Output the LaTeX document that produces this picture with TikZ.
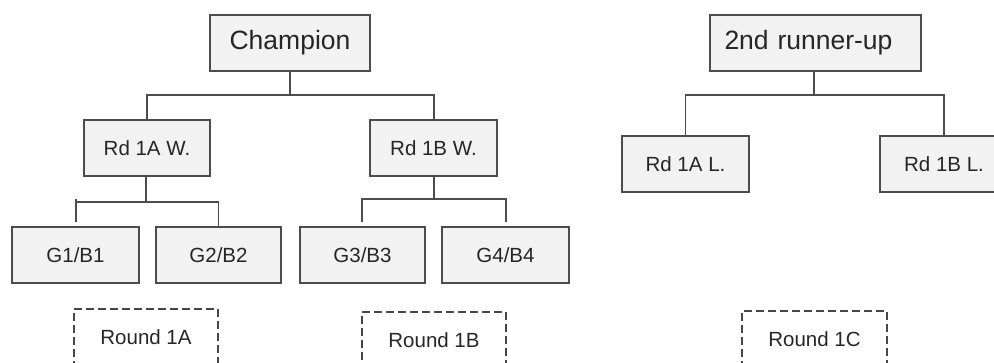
\documentclass[tikz,border=0pt]{standalone}
\usepackage{fontspec}
\setmainfont{Liberation Sans}
\begin{document}
\begin{tikzpicture}[x=1pt,y=-1pt,
  box/.style={draw=black!70, line width=1.5pt, fill=black!5, rectangle, minimum height=56pt, inner sep=0pt, text=black!85, font=\fontsize{20.5}{24}\selectfont},
  bigbox/.style={box, font=\fontsize{26.5}{30}\selectfont},
  dbox/.style={draw=black!72, line width=1.2pt, dash pattern=on 8pt off 4pt, rectangle, minimum height=56pt, inner sep=0pt, text=black!85, font=\fontsize{20.5}{24}\selectfont},
  conn/.style={draw=black!70, line width=1.4pt}]
\useasboundingbox (0,0) rectangle (994,363);
% nodes
\node[bigbox, minimum width=160pt] (champ) at (290,43) {Champion};
\node[box, minimum width=126pt] (r1aw) at (147,148) {Rd 1A W.};
\node[box, minimum width=127pt] (r1bw) at (433.5,148) {Rd 1B W.};
\node[box, minimum width=127pt] (g1) at (75.5,255) {G1/B1};
\node[box, minimum width=125pt] (g2) at (218.5,255) {G2/B2};
\node[box, minimum width=125pt] (g3) at (362.5,255) {G3/B3};
\node[box, minimum width=127pt] (g4) at (505.5,255) {G4/B4};
\node[bigbox, minimum width=211pt, text width=182pt, align=left] (ru) at (815.5,43) {2nd runner-up};
\node[box, minimum width=127pt] (r1al) at (685.5,164) {Rd 1A L.};
\node[box, minimum width=128pt] (r1bl) at (944,164) {Rd 1B L.};
\node[dbox, minimum width=144pt] (ra) at (146,337) {Round 1A};
\node[dbox, minimum width=144pt] (rb) at (434,340) {Round 1B};
\node[dbox, minimum width=145pt] (rc) at (814.5,339) {Round 1C};
% junctions
\coordinate (j1) at (290,95);
\coordinate (j2) at (146,202);
\coordinate (j3) at (434,199);
\coordinate (j4) at (814,95);
\coordinate (g1top) at (76,222);
\coordinate (g1tick) at (76,199);
\coordinate (g3top) at (362,222);
\coordinate (g4top) at (506,222);
% connectors
\draw[conn] (champ.south) -- (j1);
\draw[conn] (r1aw.north) |- (j1) -| (r1bw.north -| j3);
\draw[conn] (r1aw.south -| j2) -- (j2);
\draw[conn] (g1top) |- (j2) -| (g2.north);
\draw[conn] (g1tick) -- (g1top);
\draw[conn] (r1bw.south -| j3) -- (j3);
\draw[conn] (g3top) |- (j3) -| (g4top);
\draw[conn] (ru.south -| j4) -- (j4);
\draw[conn] (r1al.north) |- (j4) -| (r1bl.north);
\end{tikzpicture}
\end{document}
